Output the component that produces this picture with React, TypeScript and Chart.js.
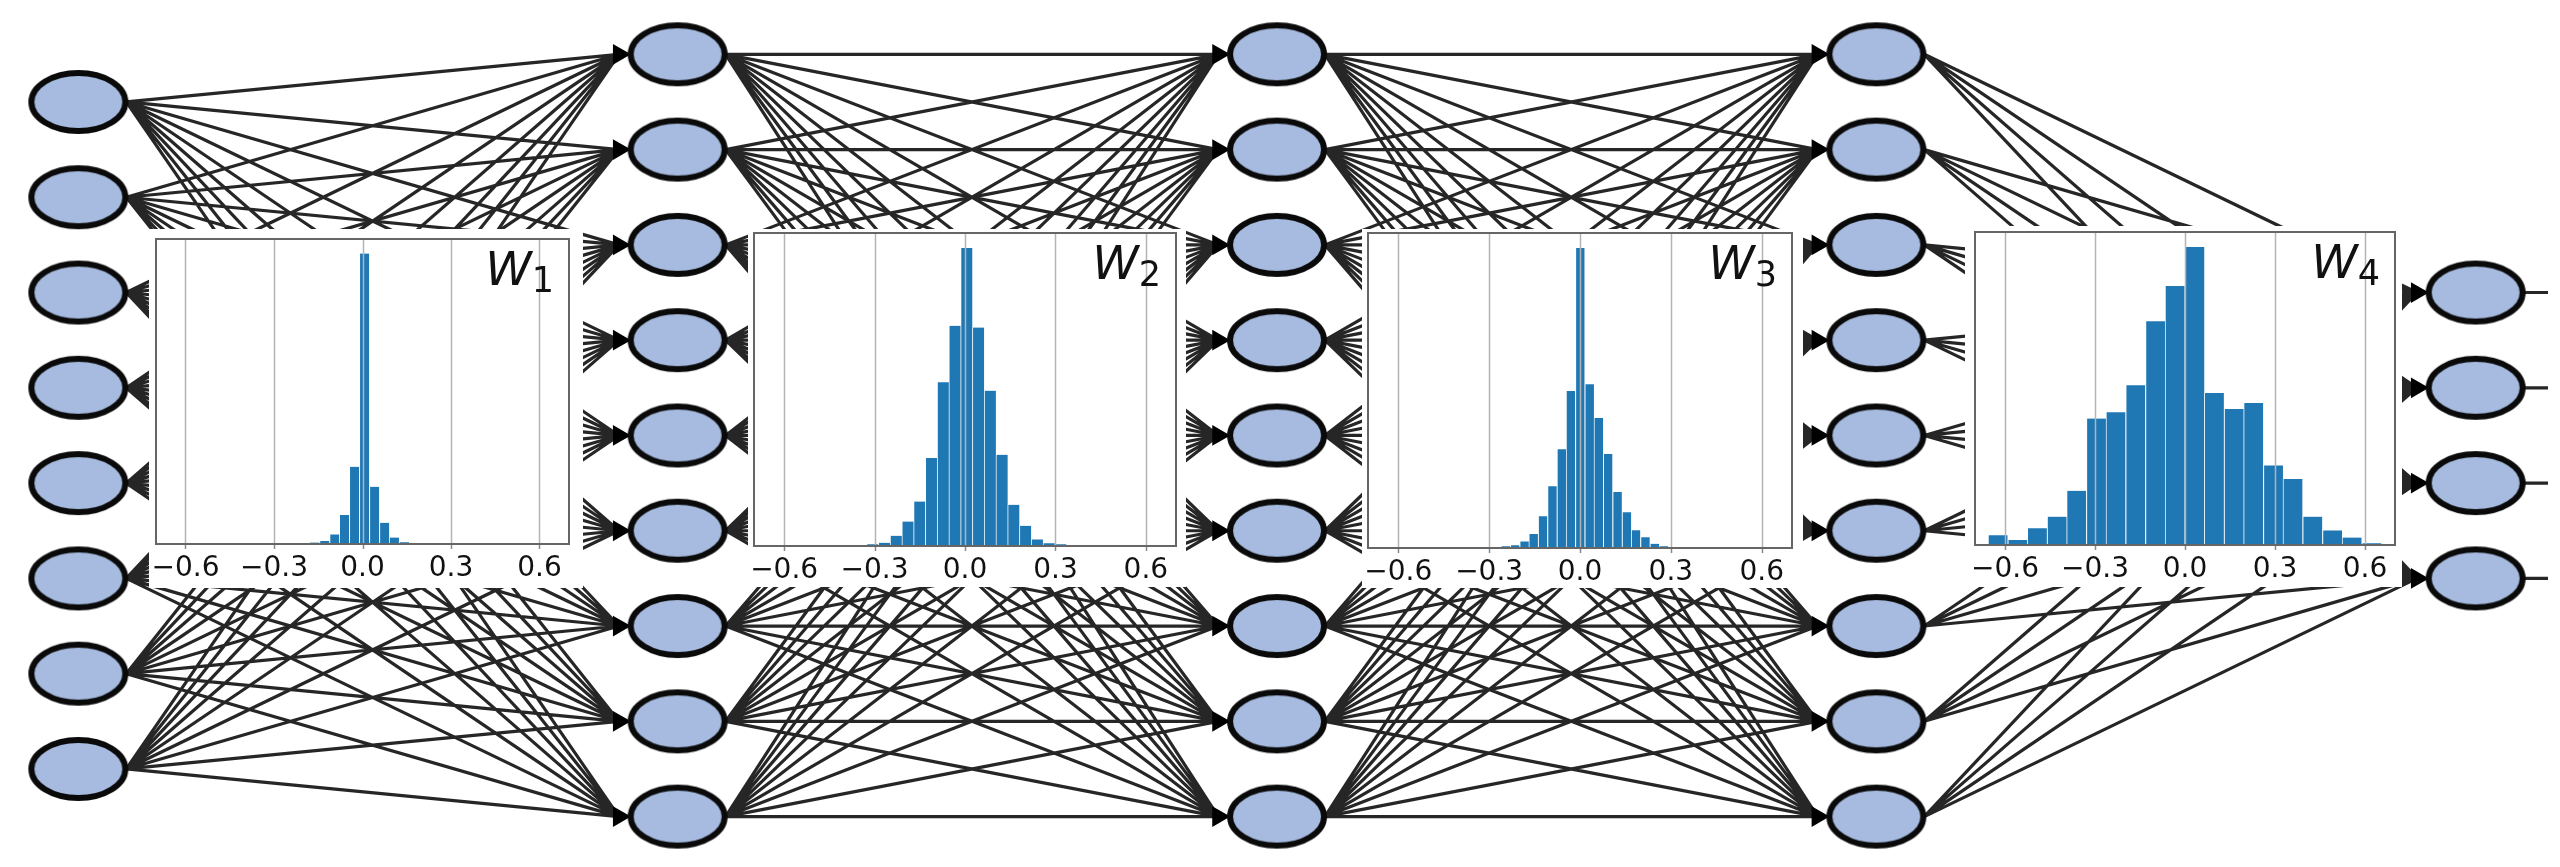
import React, { useEffect, useRef } from "react";
import { Chart, registerables } from "chart.js";

Chart.register(...registerables);

// ---------------- network diagram data ----------------
const LAYER_X = [0, 1, 2, 3, 4];
const INPUT_Y = [0.5, 1.5, 2.5, 3.5, 4.5, 5.5, 6.5, 7.5];
const HIDDEN_Y = [0, 1, 2, 3, 4, 5, 6, 7, 8];
const OUTPUT_Y = [2.5, 3.5, 4.5, 5.5];
const LAYERS_Y = [INPUT_Y, HIDDEN_Y, HIDDEN_Y, HIDDEN_Y, OUTPUT_Y];

// ---------------- histogram data ----------------
const TICK_VALUES = [-0.6, -0.3, 0, 0.3, 0.6];
const TICK_LABELS = ["−0.6", "−0.3", "0.0", "0.3", "0.6"];

const W1_BINS = [-0.197, -0.163, -0.129, -0.095, -0.062, -0.028, 0.006, 0.04, 0.074, 0.107, 0.141, 0.175];
const W1_COUNTS = [0.3, 0.5, 1.0, 3.3, 10, 26.6, 100, 19.7, 7.3, 2.2, 0.6, 0.2];

const W2_BINS = [-0.346, -0.307, -0.268, -0.229, -0.19, -0.151, -0.112, -0.073, -0.034, 0.005, 0.044, 0.083, 0.122, 0.161, 0.2, 0.239, 0.278, 0.317, 0.356];
const W2_COUNTS = [0.3, 0.6, 1.1, 3.4, 8.2, 14.9, 29.5, 54.9, 73.9, 100, 73.3, 52.1, 30.6, 13.8, 6.8, 2.2, 0.9, 0.6, 0.3];

const W3_BINS = [-0.276, -0.246, -0.215, -0.184, -0.154, -0.123, -0.092, -0.061, -0.031, 0.0, 0.031, 0.061, 0.092, 0.123, 0.154, 0.184, 0.215, 0.246, 0.276, 0.307];
const W3_COUNTS = [0.2, 0.6, 0.9, 2.2, 4.7, 10.6, 20.6, 32.9, 52.3, 100, 54.6, 43.3, 31.3, 18.7, 11.9, 5.9, 3.6, 1.4, 0.6, 0.2];

const W4_BINS = [-0.624, -0.558, -0.493, -0.427, -0.362, -0.296, -0.231, -0.165, -0.099, -0.034, 0.032, 0.097, 0.163, 0.228, 0.294, 0.359, 0.425, 0.491, 0.556, 0.622];
const W4_COUNTS = [3.3, 1.7, 5.6, 9.5, 18.2, 42.4, 44.5, 53.6, 75.1, 86.9, 100, 51.0, 45.6, 47.6, 26.7, 22.1, 9.5, 4.9, 2.5, 0.6];

const PANEL_SUBSCRIPTS = ["1", "2", "3", "4"];

// ---------------- layout / style constants ----------------
const WIDTH = 2560;
const HEIGHT = 867;
const NET_X_MIN = -0.1107;
const NET_X_MAX = 4.1207;
const NET_Y_MIN = -0.444;
const NET_Y_MAX = 8.403;
const NODE_HALF = 0.08; // half node width, layer units
const ARROW_OFFSET = 0.098;
const NODE_FILL = "#a6bbdf";
const GRID_COLOR = "#b4b4b4";
const TICK_MARK_COLOR = "#888";
const TICK_MARK_LEN = 5;

type Box = { left: number; top: number; right: number; bottom: number };
const PANELS: { box: Box; frame: Box }[] = [
  { box: { left: 149, top: 229, right: 583, bottom: 588 }, frame: { left: 156, top: 239, right: 569, bottom: 544 } },
  { box: { left: 748, top: 229, right: 1186, bottom: 587 }, frame: { left: 754, top: 233, right: 1176, bottom: 546 } },
  { box: { left: 1362, top: 229, right: 1803, bottom: 588 }, frame: { left: 1368, top: 233, right: 1792, bottom: 548 } },
  { box: { left: 1965, top: 226, right: 2402, bottom: 587 }, frame: { left: 1975, top: 232, right: 2395, bottom: 545 } },
];
const PANEL_DATA = [
  { bins: W1_BINS, counts: W1_COUNTS },
  { bins: W2_BINS, counts: W2_COUNTS },
  { bins: W3_BINS, counts: W3_COUNTS },
  { bins: W4_BINS, counts: W4_COUNTS },
];

function makeEllipse(): HTMLCanvasElement {
  const c = document.createElement("canvas");
  c.width = 106;
  c.height = 70;
  const ctx = c.getContext("2d")!;
  ctx.beginPath();
  ctx.ellipse(53, 35, 47, 29, 0, 0, Math.PI * 2);
  ctx.fillStyle = NODE_FILL;
  ctx.fill();
  ctx.lineWidth = 6;
  ctx.strokeStyle = "#0a0a0a";
  ctx.stroke();
  return c;
}

function Network() {
  const ref = useRef<HTMLCanvasElement>(null);
  useEffect(() => {
    const canvas = ref.current!;
    const edges: { x: number; y: number | null }[] = [];
    for (let l = 0; l < LAYER_X.length - 1; l++) {
      for (const ys of LAYERS_Y[l]) {
        for (const yt of LAYERS_Y[l + 1]) {
          edges.push({ x: LAYER_X[l] + NODE_HALF, y: ys });
          edges.push({ x: LAYER_X[l + 1] - ARROW_OFFSET, y: yt });
          edges.push({ x: LAYER_X[l + 1], y: null });
        }
      }
    }
    const last = LAYER_X.length - 1;
    for (const y of OUTPUT_Y) {
      edges.push({ x: LAYER_X[last] + NODE_HALF, y });
      edges.push({ x: NET_X_MAX + 0.05, y });
      edges.push({ x: NET_X_MAX, y: null });
    }
    const arrows: { x: number; y: number }[] = [];
    for (let l = 1; l < LAYER_X.length; l++) {
      for (const y of LAYERS_Y[l]) arrows.push({ x: LAYER_X[l] - ARROW_OFFSET, y });
    }
    const nodes: { x: number; y: number }[] = [];
    for (let l = 0; l < LAYER_X.length; l++) {
      for (const y of LAYERS_Y[l]) nodes.push({ x: LAYER_X[l], y });
    }
    const ellipse = makeEllipse();
    const chart = new Chart(canvas, {
      type: "scatter",
      data: {
        datasets: [
          {
            data: edges as any,
            showLine: true,
            spanGaps: false,
            borderColor: "rgba(0,0,0,0.85)",
            borderWidth: 3.2,
            pointRadius: 0,
            order: 2,
          } as any,
          {
            data: arrows,
            pointStyle: "triangle",
            rotation: 90,
            pointRadius: 12,
            backgroundColor: "#000",
            borderColor: "#000",
            borderWidth: 0,
            order: 1,
          } as any,
          {
            data: nodes,
            pointStyle: ellipse,
            pointRadius: 10,
            order: 0,
          } as any,
        ],
      },
      options: {
        animation: false,
        responsive: false,
        maintainAspectRatio: false,
        layout: { padding: 0 },
        plugins: { legend: { display: false }, tooltip: { enabled: false } },
        events: [],
        scales: {
          x: { type: "linear", min: NET_X_MIN, max: NET_X_MAX, display: false },
          y: { type: "linear", min: NET_Y_MIN, max: NET_Y_MAX, reverse: true, display: false },
        },
      } as any,
    });
    return () => chart.destroy();
  }, []);
  return (
    <canvas
      ref={ref}
      width={WIDTH}
      height={HEIGHT}
      style={{ position: "absolute", left: 0, top: 0, width: WIDTH, height: HEIGHT, filter: "blur(0.6px)" }}
    />
  );
}

// vertical grid lines (drawn over the bars, as in the reference) + tick marks, at the x scale's ticks
const gridOverPlugin = {
  id: "gridOver",
  afterDatasetsDraw(chart: any) {
    const { ctx, chartArea } = chart;
    const xs = chart.scales.x;
    ctx.save();
    for (const t of xs.ticks) {
      const px = Math.round(xs.getPixelForValue(t.value)) + 0.5;
      ctx.strokeStyle = GRID_COLOR;
      ctx.lineWidth = 1.5;
      ctx.beginPath();
      ctx.moveTo(px, chartArea.top);
      ctx.lineTo(px, chartArea.bottom);
      ctx.stroke();
      ctx.strokeStyle = TICK_MARK_COLOR;
      ctx.beginPath();
      ctx.moveTo(px, chartArea.bottom);
      ctx.lineTo(px, chartArea.bottom + TICK_MARK_LEN);
      ctx.stroke();
    }
    ctx.restore();
  },
  afterDraw(chart: any) {
    const { ctx, chartArea } = chart;
    ctx.save();
    ctx.strokeStyle = "#666";
    ctx.lineWidth = 2;
    ctx.strokeRect(chartArea.left, chartArea.top, chartArea.right - chartArea.left, chartArea.bottom - chartArea.top);
    ctx.restore();
  },
};

function Histogram({ index }: { index: number }) {
  const ref = useRef<HTMLCanvasElement>(null);
  const { box, frame } = PANELS[index];
  const { bins, counts } = PANEL_DATA[index];
  const w = box.right - box.left;
  const h = box.bottom - box.top;
  useEffect(() => {
    const canvas = ref.current!;
    const axisH = box.bottom - frame.bottom;
    const chart = new Chart(canvas, {
      type: "bar",
      data: {
        datasets: [
          {
            data: bins.map((b, i) => ({ x: b, y: counts[i] })),
            backgroundColor: "#1f77b4",
            borderColor: "rgba(255,255,255,0.35)",
            borderWidth: { left: 1, top: 0, right: 0, bottom: 0 },
            borderSkipped: false,
            barPercentage: 1,
            categoryPercentage: 1,
            grouped: false,
          } as any,
        ],
      },
      options: {
        animation: false,
        responsive: false,
        maintainAspectRatio: false,
        events: [],
        layout: {
          padding: {
            left: frame.left - box.left,
            right: box.right - frame.right,
            top: frame.top - box.top,
            bottom: 0,
          },
        },
        plugins: { legend: { display: false }, tooltip: { enabled: false } },
        scales: {
          x: {
            type: "linear",
            min: -0.7,
            max: 0.7,
            offset: false,
            grid: {
              display: false,
              offset: false,
              drawTicks: false,
              tickLength: TICK_MARK_LEN,
            },
            border: { display: true, color: "#666", width: 2 },
            ticks: {
              autoSkip: false,
              maxRotation: 0,
              minRotation: 0,
              padding: 8,
              color: "#111",
              font: { family: "'DejaVu Sans'", size: 28 },
              callback: (v: number) => {
                const k = TICK_VALUES.findIndex((t) => Math.abs(t - v) < 1e-9);
                return k >= 0 ? TICK_LABELS[k] : "";
              },
            },
            afterBuildTicks: (s: any) => {
              s.ticks = TICK_VALUES.map((v) => ({ value: v }));
            },
            afterFit: (s: any) => {
              s.height = axisH;
              s.paddingLeft = 0;
              s.paddingRight = 0;
            },
          },
          y: { display: false, min: 0, max: 105 },
        },
      } as any,
      plugins: [gridOverPlugin],
    });
    return () => chart.destroy();
  }, []);
  const labelTop = frame.top - box.top + 5.5;
  const labelRight = box.right - frame.right + 15;
  return (
    <div
      style={{
        position: "absolute",
        left: box.left,
        top: box.top,
        width: w,
        height: h,
        background: "#fff",
      }}
    >
      <canvas ref={ref} width={w} height={h} style={{ position: "absolute", left: 0, top: 0, width: w, height: h }} />
      <div
        style={{
          position: "absolute",
          right: labelRight,
          top: labelTop,
          fontFamily: "'DejaVu Sans'",
          fontSize: 47,
          lineHeight: 1,
          color: "#111",
          whiteSpace: "nowrap",
        }}
      >
        <span style={{ fontStyle: "italic" }}>W</span>
        <span style={{ fontSize: 35, position: "relative", top: 7 }}>{PANEL_SUBSCRIPTS[index]}</span>
      </div>
    </div>
  );
}

export default function App() {
  useEffect(() => {
    document.body.style.margin = "0";
  }, []);
  return (
    <div
      style={{
        position: "absolute",
        left: 0,
        top: 0,
        width: WIDTH,
        height: HEIGHT,
        overflow: "hidden",
        background: "#fff",
      }}
    >
      <Network />
      {PANELS.map((_, i) => (
        <Histogram key={i} index={i} />
      ))}
    </div>
  );
}
